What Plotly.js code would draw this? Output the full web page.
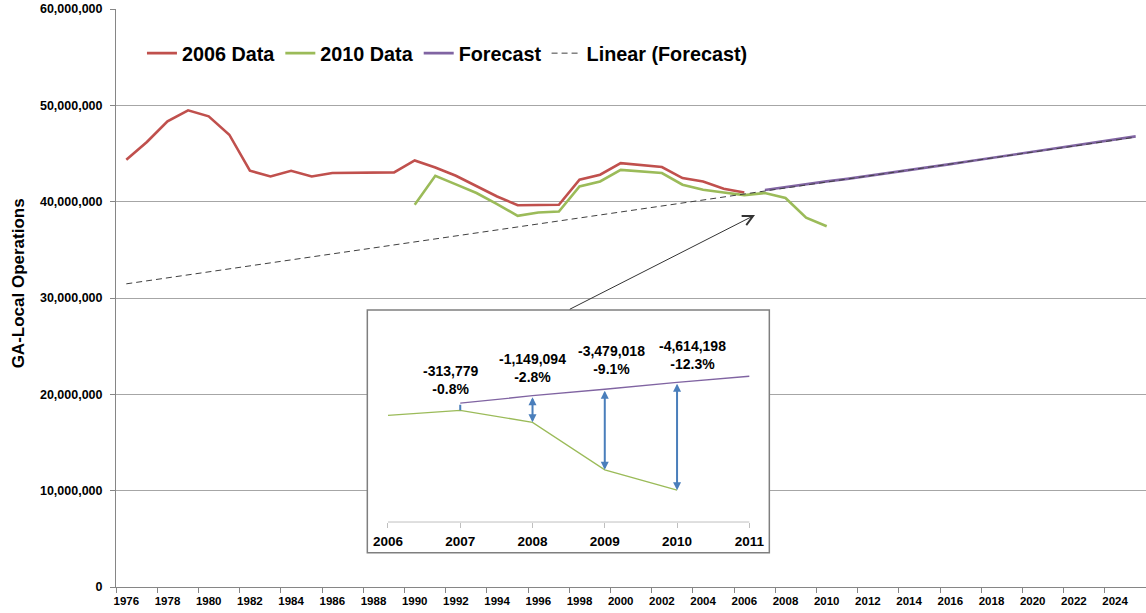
<!DOCTYPE html>
<html><head><meta charset="utf-8">
<script src="https://cdn.plot.ly/plotly-3.0.1.min.js"></script>
<style>html,body{margin:0;padding:0;background:#fff;}#chart{width:1146px;height:613px;}</style>
</head><body><div id="chart"></div>
<script>
// ---- data ----
const years2006 = [1976,1977,1978,1979,1980,1981,1982,1983,1984,1985,1986,1987,1988,1989,1990,1991,1992,1993,1994,1995,1996,1997,1998,1999,2000,2001,2002,2003,2004,2005,2006];
const ops2006 = [44360000,46200000,48340000,49480000,48860000,46950000,43210000,42620000,43210000,42620000,42970000,42970000,43040000,43040000,44280000,43550000,42690000,41650000,40540000,39630000,39650000,39680000,42280000,42800000,44000000,43800000,43600000,42450000,42100000,41340000,40960000];
const years2010 = [1990,1991,1992,1993,1994,1995,1996,1997,1998,1999,2000,2001,2002,2003,2004,2005,2006,2007,2008,2009,2010];
const ops2010 = [39680000,42690000,41800000,40900000,39750000,38530000,38880000,38980000,41580000,42100000,43300000,43150000,42970000,41760000,41240000,40960000,40680000,40900000,40380000,38330000,37450000];
const yearsForecast = [2007,2008,2009,2010,2011,2012,2013,2014,2015,2016,2017,2018,2019,2020,2021,2022,2023,2024,2025];
const opsForecast = [41210000,41530000,41810000,42110000,42370000,42660000,42970000,43280000,43590000,43900000,44220000,44540000,44860000,45180000,45500000,45820000,46150000,46470000,46780000];
const yearsTrend = [1976,2025];
const opsTrend = [31470000,46700000];
const xTickLabels = ['1976','1978','1980','1982','1984','1986','1988','1990','1992','1994','1996','1998','2000','2002','2004','2006','2008','2010','2012','2014','2016','2018','2020','2022','2024'];
const insetYears = [2006,2007,2008,2009,2010,2011];
const gapYears = [2007,2008,2009,2010];
const gapLabels = ['-313,779','-1,149,094','-3,479,018','-4,614,198'];
const gapPercents = ['-0.8%','-2.8%','-9.1%','-12.3%'];
const seriesNames = ['2006 Data','2010 Data','Forecast','Linear (Forecast)'];
const yTitle = 'GA-Local Operations';

// ---- styling ----
const FONT = 'Liberation Sans, Arial, sans-serif';
const RED = '#C0504D', GREEN = '#9BBB59', PURPLE = '#8064A2', BLUE = '#4A7EBB';

const inInset = (ys, vs) => {
  const x = [], y = [];
  ys.forEach((yr, i) => { if (yr >= insetYears[0] && yr <= insetYears[insetYears.length-1]) { x.push(yr); y.push(vs[i]); } });
  return {x, y};
};
const g10 = inInset(years2010, ops2010);
const fc = inInset(yearsForecast, opsForecast);
const valAt = (ys, vs, yr) => vs[ys.indexOf(yr)];

const traces = [
  {x: years2006, y: ops2006, name: seriesNames[0], type: 'scatter', mode: 'lines', line: {color: RED, width: 2.6}},
  {x: years2010, y: ops2010, name: seriesNames[1], type: 'scatter', mode: 'lines', line: {color: GREEN, width: 2.6}},
  {x: yearsForecast, y: opsForecast, name: seriesNames[2], type: 'scatter', mode: 'lines', line: {color: PURPLE, width: 2.6}},
  {x: yearsTrend, y: opsTrend, name: seriesNames[3], xaxis: 'x3', type: 'scatter', mode: 'lines', line: {color: '#404040', width: 1, dash: '6px,4px'}},
  {x: g10.x, y: g10.y, xaxis: 'x2', yaxis: 'y2', type: 'scatter', mode: 'lines', showlegend: false, hoverinfo: 'skip', line: {color: GREEN, width: 1.3}},
  {x: fc.x, y: fc.y, xaxis: 'x2', yaxis: 'y2', type: 'scatter', mode: 'lines', showlegend: false, hoverinfo: 'skip', line: {color: PURPLE, width: 1.3}}
];

const annotations = [
  {xref: 'paper', yref: 'paper', x: -0.0951, y: 0.5254, text: yTitle, textangle: -90, showarrow: false,
   xanchor: 'center', yanchor: 'middle', font: {family: FONT, size: 17, weight: 'bold', color: '#000'}},
  {xref: 'paper', yref: 'paper', x: 0.6204, y: 0.6436, ax: -186.7, ay: 95, text: '', showarrow: true,
   arrowhead: 5, arrowsize: 2, arrowwidth: 1, arrowcolor: '#333', standoff: 0}
];
const labelShiftX = [-10, 0, 7, 15];
const labelShiftY = [4, 9, 10, 8];
gapYears.forEach((yr, i) => {
  const a = valAt(years2010, ops2010, yr), f = valAt(yearsForecast, opsForecast, yr);
  annotations.push({xref: 'x2', yref: 'y2', x: yr, y: a, axref: 'x2', ayref: 'y2', ax: yr, ay: f, text: '',
    showarrow: true, arrowside: i === 0 ? 'none' : 'end+start', arrowhead: 2, startarrowhead: 2,
    arrowsize: 0.8, startarrowsize: 0.8, arrowwidth: 2, arrowcolor: BLUE, standoff: 0, startstandoff: 0});
  annotations.push({xref: 'x2', yref: 'y2', x: yr, y: f, text: gapLabels[i] + '<br>' + gapPercents[i], showarrow: false,
    xanchor: 'center', yanchor: 'bottom', xshift: labelShiftX[i], yshift: labelShiftY[i],
    font: {family: FONT, size: 14, weight: 'bold', color: '#000'}});
});

const layout = {
  width: 1146, height: 613,
  margin: {l: 116, r: 0, t: 9, b: 26, pad: 0},
  paper_bgcolor: '#fff', plot_bgcolor: '#fff',
  font: {family: FONT, color: '#000'},
  showlegend: true,
  legend: {orientation: 'h', x: 0.0252, xanchor: 'left', y: 0.9234, yanchor: 'middle', bgcolor: 'rgba(0,0,0,0)',
           font: {family: FONT, size: 19.8, weight: 'bold', color: '#000'}, itemwidth: 30},
  // labels at category centres
  xaxis: {range: [1975.5, 2025.5], tickmode: 'array', tickvals: xTickLabels.map(Number), ticktext: xTickLabels,
          ticks: '', ticklabelstandoff: 3, showgrid: false, zeroline: false, showline: true, linecolor: '#868686', linewidth: 1,
          tickfont: {family: FONT, size: 11.5, weight: 'bold', color: '#000'}},
  // tick marks on category boundaries
  xaxis3: {overlaying: 'x', matches: 'x', anchor: 'y', side: 'bottom', tickmode: 'linear', tick0: 1975.5, dtick: 2,
           ticks: 'outside', ticklen: 5, tickcolor: '#868686', showticklabels: false, showgrid: false, zeroline: false, showline: false},
  yaxis: {range: [0, 60000000], dtick: 10000000, tickformat: ',', ticks: 'outside', ticklen: 5, tickcolor: '#868686',
          ticklabelstandoff: 5,
          showgrid: true, gridcolor: '#a6a6a6', gridwidth: 1, zeroline: false, showline: true, linecolor: '#868686',
          tickfont: {family: FONT, size: 12.5, weight: 'bold', color: '#000'}},
  xaxis2: {domain: [0.244, 0.6343], range: [2005.714, 2011.277], anchor: 'free', position: 0.1125,
           tickmode: 'linear', tick0: 2006, dtick: 1, ticks: 'outside', ticklen: 5, tickcolor: '#bfbfbf',
           ticklabelstandoff: 2,
           showgrid: false, zeroline: false, showline: false,
           tickfont: {family: FONT, size: 13.5, weight: 'bold', color: '#000'}},
  yaxis2: {domain: [0.0593, 0.4792], range: [34748000, 45232000], anchor: 'x2', showticklabels: false,
           ticks: '', showgrid: false, zeroline: false, showline: false},
  shapes: [
    {type: 'line', xref: 'x2', yref: 'y2 domain', x0: insetYears[0], x1: insetYears[insetYears.length-1], y0: 0.1265, y1: 0.1265,
     layer: 'above', line: {color: '#bfbfbf', width: 1}},
    {type: 'rect', xref: 'paper', yref: 'paper', x0: 0.244, x1: 0.6343, y0: 0.0593, y1: 0.4792, layer: 'above',
     line: {color: '#7f7f7f', width: 1.5}, fillcolor: 'rgba(0,0,0,0)'}
  ],
  annotations: annotations
};

Plotly.newPlot('chart', traces, layout, {displayModeBar: false, staticPlot: true});
</script>
</body></html>
